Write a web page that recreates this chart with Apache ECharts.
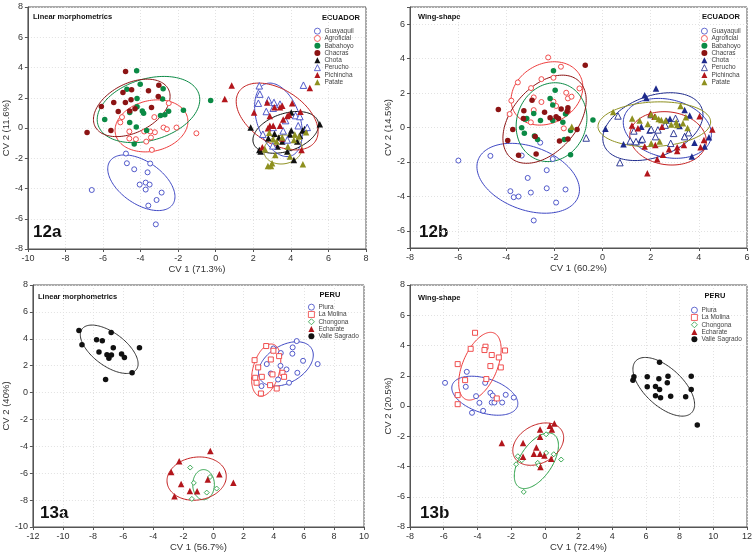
<!DOCTYPE html>
<html><head><meta charset="utf-8">
<script src="https://cdn.jsdelivr.net/npm/echarts@6/dist/echarts.min.js"></script>
<style>html,body{margin:0;padding:0;background:#fff}#c{width:756px;height:556px}</style>
</head><body><div id="c"></div>
<script>
// ---------- 12a : Linear morphometrics, ECUADOR ----------
const e12a_Guayaquil = [[-6.60,-4.10],[-4.78,-1.69],[-4.73,-2.33],[-4.34,-2.73],[-3.49,-2.35],[-3.63,-2.93],[-4.05,-3.74],[-3.73,-3.61],[-3.52,-3.74],[-3.73,-4.07],[-2.88,-4.27],[-3.15,-4.76],[-3.59,-5.13],[-3.19,-6.37]];
const e12a_Agroficial = [[-4.99,0.72],[-5.08,0.37],[-4.60,-0.23],[-4.60,-0.70],[-4.25,-0.74],[-3.81,-0.23],[-3.70,-0.90],[-3.45,-0.63],[-3.27,0.72],[-3.24,-0.28],[-2.78,0.03],[-2.60,-0.08],[-2.50,1.64],[-2.09,0.03],[-1.03,-0.35],[-3.40,-1.45],[-3.49,-0.23]];
const e12a_Babahoyo = [[-4.21,3.78],[-4.02,2.90],[-4.73,2.57],[-2.80,2.59],[-4.19,1.95],[-2.83,1.91],[-4.19,1.40],[-3.91,1.13],[-4.58,1.02],[-3.84,0.98],[-5.91,0.56],[-1.72,1.18],[-2.51,1.11],[-2.71,0.87],[-2.94,0.82],[-4.58,0.37],[-4.23,0.06],[-3.68,-0.16],[-4.34,-1.05],[-0.27,1.82]];
const e12a_Chacras = [[-4.80,3.74],[-3.03,2.83],[-4.94,2.35],[-4.48,2.53],[-3.58,2.46],[-4.51,1.86],[-3.06,2.08],[-5.43,1.69],[-4.81,1.69],[-6.09,1.42],[-4.58,1.13],[-5.19,1.09],[-4.30,1.27],[-3.42,1.36],[-6.85,-0.30],[-5.58,-0.17]];
const e12a_Chota = [[1.86,0.04],[2.32,-1.45],[2.39,-1.56],[2.80,-0.67],[3.13,-0.38],[3.36,-0.63],[3.29,-1.23],[3.81,-1.56],[3.95,-0.43],[4.02,-0.16],[4.16,-2.11],[4.34,-0.90],[4.62,-0.16],[4.48,-0.52],[4.73,-0.07],[5.54,0.24],[3.54,-0.90],[4.02,1.02]];
const e12a_Perucho = [[2.32,2.79],[4.67,2.83],[2.35,2.24],[2.27,1.64],[2.81,1.86],[3.10,1.69],[3.42,1.58],[2.69,1.09],[3.06,1.31],[3.72,0.49],[4.25,0.82],[4.48,0.76],[4.87,0.04],[4.39,0.15],[3.06,0.04],[3.59,-0.19],[2.51,-0.41],[3.04,-1.18],[3.81,-0.79]];
const e12a_Pichincha = [[0.85,2.81],[5.01,2.64],[0.48,1.91],[2.04,1.02],[2.74,1.69],[3.13,1.38],[3.54,1.47],[4.07,1.64],[2.88,0.80],[3.42,1.38],[3.81,0.80],[3.91,0.87],[3.59,0.56],[4.51,1.07],[3.06,0.15],[3.42,0.15],[3.54,-0.69],[2.88,0.15],[4.57,-1.45],[2.48,-1.27],[2.78,-0.01]];
const e12a_Patate = [[2.85,-0.32],[3.06,-0.74],[2.62,-1.40],[3.17,-1.78],[3.54,-0.63],[3.84,-1.23],[3.95,-1.89],[4.21,-0.43],[4.43,-0.56],[4.81,-0.28],[4.64,-2.40],[2.78,-2.51],[2.94,-2.51],[3.00,-2.33],[4.16,-0.79],[3.24,-0.90]];
// ellipse: [centre x, centre y, half-width x, half-height y, tilt r]
const ell12a = {
  Guayaquil:[-3.96,-3.62,1.79,1.84,-0.5], Agroficial:[-3.42,0.14,1.94,1.72,0.17],
  Babahoyo:[-3.58,1.22,2.73,2.19,0.3], Chacras:[-4.47,1.33,2.04,1.90,0.4],
  Chota:[3.73,-0.29,1.75,1.38,0.36], Perucho:[3.34,0.54,1.27,2.43,-0.36],
  Pichincha:[3.27,0.76,2.18,2.21,-0.45], Patate:[3.58,-1.42,1.02,0.96,0.1]
};

// ---------- 12b : Wing-shape, ECUADOR ----------
const e12b_Guayaquil = [[-5.99,-1.92],[-4.66,-1.65],[-3.36,-1.63],[-2.59,-0.88],[-2.07,-1.83],[-3.11,-2.93],[-2.32,-2.48],[-3.83,-3.70],[-3.69,-4.05],[-3.49,-4.01],[-2.98,-3.78],[-2.32,-3.53],[-1.54,-3.60],[-1.93,-4.36],[-2.86,-5.40]];
const e12b_Agroficial = [[-2.26,4.07],[-1.73,3.53],[-2.04,2.89],[-2.54,2.81],[-3.52,2.62],[-2.97,2.29],[-3.79,1.56],[-3.86,0.78],[-2.86,1.75],[-2.54,1.48],[-2.04,1.50],[-1.93,1.25],[-1.51,2.02],[-1.44,1.69],[-1.29,1.79],[-0.96,2.27],[-2.86,1.01],[-2.98,0.30],[-1.44,0.95],[-1.61,-0.05]];
const e12b_Babahoyo = [[-2.04,3.29],[-1.97,2.17],[-2.18,1.69],[-2.07,1.30],[-3.15,0.53],[-3.22,0.48],[-2.86,0.82],[-2.58,0.40],[-2.07,0.40],[-1.54,0.78],[-1.65,0.30],[-3.36,-0.01],[-3.25,-0.34],[-2.83,-0.49],[-2.70,-0.69],[-1.59,-0.69],[-1.33,-0.18],[-1.33,-1.59],[-0.40,0.43]];
const e12b_Chacras = [[-4.33,1.05],[-2.93,1.59],[-3.27,0.98],[-3.29,0.53],[-2.41,0.88],[-2.18,0.57],[-1.93,0.63],[-1.83,0.53],[-1.72,1.07],[-1.44,1.15],[-1.47,0.95],[-3.73,-0.11],[-3.94,-0.76],[-2.80,-0.53],[-1.79,-0.78],[-1.44,-0.67],[-1.06,-0.11],[-0.72,3.62],[-3.49,-1.61],[-2.76,-1.54]];
const e12b_Chota = [[2.22,2.27],[1.75,1.88],[1.82,1.71],[0.12,-0.07],[0.87,-0.98],[1.99,0.72],[1.61,0.05],[1.95,-0.18],[2.80,0.51],[3.20,0.09],[3.41,1.02],[3.62,0.69],[3.41,-0.49],[3.82,-0.88],[3.71,-1.69],[4.24,-1.11],[4.42,-0.57],[2.66,0.40],[1.58,-0.74]];
const e12b_Perucho = [[0.64,0.67],[0.72,-2.04],[-0.68,-0.61],[1.30,-0.20],[1.39,-0.82],[1.65,-0.67],[2.02,-0.11],[2.30,-0.14],[2.20,-0.53],[2.60,0.14],[2.83,-0.92],[2.95,-0.34],[3.03,0.53],[3.41,-0.53],[3.57,-0.30],[1.15,-0.78]];
const e12b_Pichincha = [[1.86,-2.66],[1.99,0.82],[2.19,-1.01],[2.27,-1.85],[2.51,-1.59],[2.76,-1.27],[3.10,-1.36],[3.10,-1.15],[3.38,-1.01],[4.07,-1.15],[4.21,-0.72],[4.56,-0.11],[4.03,0.65],[1.22,0.11],[1.47,-0.05],[1.75,-1.11],[2.47,0.05],[2.16,0.63]];
const e12b_Patate = [[0.44,0.90],[1.23,0.53],[1.54,0.40],[1.88,0.21],[2.02,0.76],[2.20,0.63],[2.33,0.49],[2.44,0.43],[2.62,0.40],[2.85,0.17],[3.06,0.30],[3.10,0.14],[3.34,0.24],[3.46,0.59],[3.24,1.25],[3.53,-0.03],[2.02,-0.92],[2.37,-0.82],[-1.28,0.05]];
const ell12b = {
  Guayaquil:[-3.09,-2.95,2.13,2.03,-0.33], Agroficial:[-2.31,1.98,1.49,1.84,0.2],
  Babahoyo:[-2.12,0.31,1.47,2.29,0.1], Chacras:[-2.41,0.48,1.73,2.56,0.43],
  Chota:[2.09,0.05,2.08,1.97,0.35], Perucho:[2.69,-0.05,1.83,1.74,-0.2],
  Pichincha:[2.72,-0.63,1.59,1.55,-0.1], Patate:[2.15,0.19,2.34,1.30,0.1]
};

// ---------- 13a : Linear morphometrics, PERU ----------
const p13a_Piura = [[5.53,3.83],[3.98,3.28],[5.26,3.36],[4.47,2.94],[5.24,2.89],[5.95,2.36],[3.54,2.12],[4.45,1.99],[4.85,1.72],[5.57,1.47],[6.92,2.12],[3.81,1.42],[4.29,0.97],[5.02,0.73],[3.19,0.48]];
const p13a_LaMolina = [[3.50,3.46],[3.98,3.11],[2.73,2.41],[3.81,2.46],[4.36,2.71],[2.97,1.87],[3.21,1.17],[2.77,1.10],[3.92,1.35],[4.58,1.47],[4.69,1.17],[2.86,0.73],[3.76,0.55],[4.20,0.30],[3.15,-0.07]];
const p13a_Chongona = [[-1.55,-5.58],[-1.31,-6.72],[-0.23,-6.28],[-0.45,-7.44],[0.21,-7.14],[-1.44,-7.91]];
const p13a_Echarate = [[-0.21,-4.34],[-2.28,-5.11],[-2.81,-5.90],[-2.15,-6.80],[-0.38,-6.47],[0.39,-6.08],[1.32,-6.70],[-1.57,-7.32],[-1.09,-7.34],[-2.59,-7.72]];
const p13a_Valle = [[-8.94,4.62],[-8.74,3.56],[-7.77,3.93],[-7.39,3.85],[-6.80,4.47],[-7.61,3.01],[-7.08,2.81],[-6.95,2.56],[-6.78,2.79],[-6.66,3.33],[-6.11,2.86],[-5.92,2.61],[-4.92,3.33],[-5.41,1.47],[-7.17,0.97]];
const ell13a = {
  Piura:[4.81,2.13,1.82,1.65,0.4], LaMolina:[3.50,1.67,0.97,1.94,0.35],
  Chongona:[-0.66,-6.85,0.72,1.12,0.0], Echarate:[-1.12,-6.40,1.97,1.61,0.1],
  Valle:[-6.93,3.22,1.92,1.80,-0.6]
};

// ---------- 13b : Wing-shape, PERU ----------
const p13b_Piura = [[-5.92,1.53],[-4.63,2.26],[-4.69,1.27],[-4.08,0.65],[-3.54,1.53],[-3.88,0.21],[-4.32,-0.45],[-3.66,-0.32],[-3.23,0.87],[-3.09,0.69],[-3.15,0.23],[-2.99,0.23],[-2.32,0.74],[-1.84,0.56],[-2.53,0.23]];
const p13b_LaMolina = [[-4.14,4.84],[-4.40,3.78],[-3.52,3.92],[-3.58,3.70],[-3.15,3.37],[-2.36,3.67],[-2.73,3.21],[-3.23,2.64],[-2.61,2.55],[-5.17,2.77],[-4.73,1.71],[-3.47,1.78],[-5.17,0.72],[-2.85,0.50],[-5.17,0.12]];
const p13b_Chongona = [[-1.60,-3.32],[-1.37,-3.59],[-1.70,-3.85],[-1.25,-5.68],[-0.42,-3.76],[-0.36,-3.92],[0.08,-3.10],[0.08,-1.87],[0.53,-3.19],[0.97,-3.54]];
const p13b_Echarate = [[-2.55,-2.44],[-1.29,-2.44],[-1.29,-3.35],[-0.50,-2.75],[-0.65,-3.15],[-0.28,-3.15],[-0.02,-3.28],[-0.28,-1.56],[-0.28,-2.04],[0.30,-1.31],[0.42,-1.56],[0.57,-1.16],[0.38,-3.48],[-0.26,-4.03]];
const p13b_Valle = [[6.81,2.90],[5.23,1.71],[5.29,1.93],[6.08,1.93],[6.77,1.80],[7.31,1.97],[8.69,1.97],[6.08,1.27],[6.57,1.29],[6.81,1.09],[7.27,1.53],[8.69,1.09],[6.57,0.67],[6.87,0.54],[7.47,0.65],[8.36,0.61],[9.05,-1.25]];
const ell13b = {
  Piura:[-3.56,0.68,1.96,1.29,-0.4], LaMolina:[-3.85,2.63,1.26,2.24,0.5],
  Chongona:[-0.50,-3.62,1.31,1.84,0.55], Echarate:[-0.39,-2.52,1.51,1.40,0.3],
  Valle:[7.06,1.27,1.83,1.94,-0.6]
};

const ecuadorNames = ['Guayaquil','Agroficial','Babahoyo','Chacras','Chota','Perucho','Pichincha','Patate'];
const peruNames = ['Piura','La Molina','Chongona','Echarate','Valle Sagrado'];

// ---------- styles ----------
const FONT = 'Liberation Sans, Arial, sans-serif';
const C = {blue:'#3f48c4', red:'#ee3c3c', green:'#0b8a45', maroon:'#8c1414', black:'#111', navy:'#1e2a8c', pich:'#b3161c', olive:'#8e901f', lgreen:'#2aa046'};
const styleE_a = {
  Guayaquil:{sym:'circle',open:true,c:C.blue}, Agroficial:{sym:'circle',open:true,c:C.red},
  Babahoyo:{sym:'circle',c:C.green}, Chacras:{sym:'circle',c:C.maroon},
  Chota:{sym:'triangle',c:C.black}, Perucho:{sym:'triangle',open:true,c:C.blue},
  Pichincha:{sym:'triangle',c:C.pich}, Patate:{sym:'triangle',c:C.olive}
};
const styleE_b = Object.assign({}, styleE_a, {Chota:{sym:'triangle',c:C.navy}, Perucho:{sym:'triangle',open:true,c:C.navy}});
const ellColE_a = {Guayaquil:C.blue,Agroficial:C.red,Babahoyo:C.green,Chacras:C.maroon,Chota:C.black,Perucho:C.blue,Pichincha:'#c42020',Patate:C.olive};
const ellColE_b = {Guayaquil:C.blue,Agroficial:C.red,Babahoyo:C.green,Chacras:C.maroon,Chota:C.navy,Perucho:'#3540b8',Pichincha:'#c42020',Patate:C.olive};
const styleP = {
  'Piura':{sym:'circle',open:true,c:C.blue}, 'La Molina':{sym:'rect',open:true,c:C.red},
  'Chongona':{sym:'diamond',open:true,c:C.lgreen}, 'Echarate':{sym:'triangle',c:C.pich},
  'Valle Sagrado':{sym:'circle',c:C.black}
};
const ellColP = {'Piura':C.blue,'La Molina':C.red,'Chongona':C.lgreen,'Echarate':'#c42020','Valle Sagrado':'#333'};

const grids = [
  {left:27, top:7, width:339, height:242},
  {left:410, top:7, width:337, height:241},
  {left:31, top:285, width:333, height:242},
  {left:410, top:285, width:337, height:242}
];
const axisRanges = [
  {x:[-10,8], y:[-8,8], xn:'CV 1 (71.3%)', yn:'CV 2 (11.6%)'},
  {x:[-8,6], y:[-7,7], xn:'CV 1 (60.2%)', yn:'CV 2 (14.5%)'},
  {x:[-12,10], y:[-10,8], xn:'CV 1 (56.7%)', yn:'CV 2 (40%)'},
  {x:[-8,12], y:[-8,8], xn:'CV 1 (72.4%)', yn:'CV 2 (20.5%)'}
];

function axisCommon(){
  return {
    axisLine:{show:true, onZero:false, lineStyle:{color:'#555', width:1}},
    axisTick:{show:true, length:3, lineStyle:{color:'#555'}},
    axisLabel:{fontSize:9, color:'#333', fontFamily:FONT, margin:5,
      formatter: v => (Math.abs(v % 2) < 1e-9 ? String(v) : '')},
    splitLine:{show:true, lineStyle:{color:'#e2e2e2', type:[1,2]}},
    nameLocation:'middle',
    nameTextStyle:{fontSize:9.5, color:'#333', fontFamily:FONT}
  };
}
const xAxes = [], yAxes = [];
axisRanges.forEach((r,i) => {
  xAxes.push(Object.assign(axisCommon(), {type:'value', gridIndex:i, min:r.x[0], max:r.x[1], interval:2, name:r.xn, nameGap:14}));
  const y = Object.assign(axisCommon(), {type:'value', gridIndex:i, min:r.y[0], max:r.y[1], name:r.yn, nameGap:16});
  if ((r.y[0] % 2) === 0) y.interval = 2; else y.splitNumber = 7;
  yAxes.push(y);
});

function ellipseRender(params, api){
  const cx = api.value(0), cy = api.value(1), sx = api.value(2), sy = api.value(3), r = api.value(4);
  const k = Math.sqrt(Math.max(0, 1 - r*r));
  const pts = [];
  for (let i = 0; i <= 120; i++){
    const t = i / 120 * Math.PI * 2;
    pts.push(api.coord([cx + sx*Math.cos(t), cy + sy*(r*Math.cos(t) + k*Math.sin(t))]));
  }
  return {type:'polyline', shape:{points:pts}, style:{stroke:api.visual('color'), fill:null, lineWidth:1}};
}

const series = [];
function addPanel(idx, tag, names, dataMap, styleMap, ellMap, ellCol){
  const ellData = names.map(n => ({value: ellMap[n], itemStyle:{color: ellCol[n]}}));
  series.push({type:'custom', xAxisIndex:idx, yAxisIndex:idx, renderItem:ellipseRender, data:ellData, encode:{x:0,y:1}, silent:true, z:2});
  names.forEach(n => {
    const s = styleMap[n];
    const isTri = s.sym === 'triangle';
    series.push({
      type:'scatter', name:n + '#' + tag, xAxisIndex:idx, yAxisIndex:idx, data:dataMap[n],
      symbol:s.sym, symbolSize: isTri ? 6.5 : (s.open ? 5 : 5.5),
      itemStyle: s.open ? {color:'#fff', borderColor:s.c, borderWidth:0.9, opacity:1}
                        : {color:s.c, borderWidth:0, opacity:1},
      z:3
    });
  });
}
addPanel(0,'12a', ecuadorNames,
  {Guayaquil:e12a_Guayaquil, Agroficial:e12a_Agroficial, Babahoyo:e12a_Babahoyo, Chacras:e12a_Chacras, Chota:e12a_Chota, Perucho:e12a_Perucho, Pichincha:e12a_Pichincha, Patate:e12a_Patate},
  styleE_a, ell12a, ellColE_a);
addPanel(1,'12b', ecuadorNames,
  {Guayaquil:e12b_Guayaquil, Agroficial:e12b_Agroficial, Babahoyo:e12b_Babahoyo, Chacras:e12b_Chacras, Chota:e12b_Chota, Perucho:e12b_Perucho, Pichincha:e12b_Pichincha, Patate:e12b_Patate},
  styleE_b, ell12b, ellColE_b);
addPanel(2,'13a', peruNames,
  {'Piura':p13a_Piura, 'La Molina':p13a_LaMolina, 'Chongona':p13a_Chongona, 'Echarate':p13a_Echarate, 'Valle Sagrado':p13a_Valle},
  styleP, {'Piura':ell13a.Piura,'La Molina':ell13a.LaMolina,'Chongona':ell13a.Chongona,'Echarate':ell13a.Echarate,'Valle Sagrado':ell13a.Valle}, ellColP);
addPanel(3,'13b', peruNames,
  {'Piura':p13b_Piura, 'La Molina':p13b_LaMolina, 'Chongona':p13b_Chongona, 'Echarate':p13b_Echarate, 'Valle Sagrado':p13b_Valle},
  styleP, {'Piura':ell13b.Piura,'La Molina':ell13b.LaMolina,'Chongona':ell13b.Chongona,'Echarate':ell13b.Echarate,'Valle Sagrado':ell13b.Valle}, ellColP);

function legend(tag, names, left, top){
  return {
    data: names.map(n => n + '#' + tag), orient:'vertical', left:left, top:top,
    itemWidth:6, itemHeight:6, itemGap:0, padding:0, selectedMode:false,
    itemStyle:{borderWidth:0.8},
    formatter: n => n.split('#')[0],
    textStyle:{fontSize:6.5, lineHeight:7.3, color:'#444', fontFamily:FONT, padding:[0,0,0,-1]}
  };
}

function txt(x, y, text, size, align){
  return {type:'text', x:x, y:y, silent:true, style:{text:text, font:'bold ' + size + 'px ' + FONT, fill:'#111', textAlign:align || 'left', textVerticalAlign:'middle'}};
}

const chart = echarts.init(document.getElementById('c'), null, {renderer:'canvas'});
chart.setOption({
  backgroundColor:'#fff',
  animation:false,
  grid: grids.map(g => Object.assign({show:true, borderColor:'#555', borderWidth:1, containLabel:false}, g)),
  xAxis: xAxes,
  yAxis: yAxes,
  legend: [
    legend('12a', ecuadorNames, 314, 27.5),
    legend('12b', ecuadorNames, 701, 27.5),
    legend('13a', peruNames, 308, 303.5),
    legend('13b', peruNames, 691, 306.5)
  ],
  graphic: [
    txt(33, 17, 'Linear morphometrics', 7.5),
    txt(341, 18, 'ECUADOR', 7.5, 'center'),
    txt(33, 232, '12a', 17),
    txt(418, 17, 'Wing-shape', 7.5),
    txt(721, 17, 'ECUADOR', 7.5, 'center'),
    txt(419, 232, '12b', 17),
    txt(38, 297, 'Linear morphometrics', 7.5),
    txt(330, 295, 'PERU', 7.5, 'center'),
    txt(40, 513, '13a', 17),
    txt(418, 298, 'Wing-shape', 7.5),
    txt(715, 296, 'PERU', 7.5, 'center'),
    txt(420, 513, '13b', 17)
  ],
  series: series
});
</script>
</body></html>
